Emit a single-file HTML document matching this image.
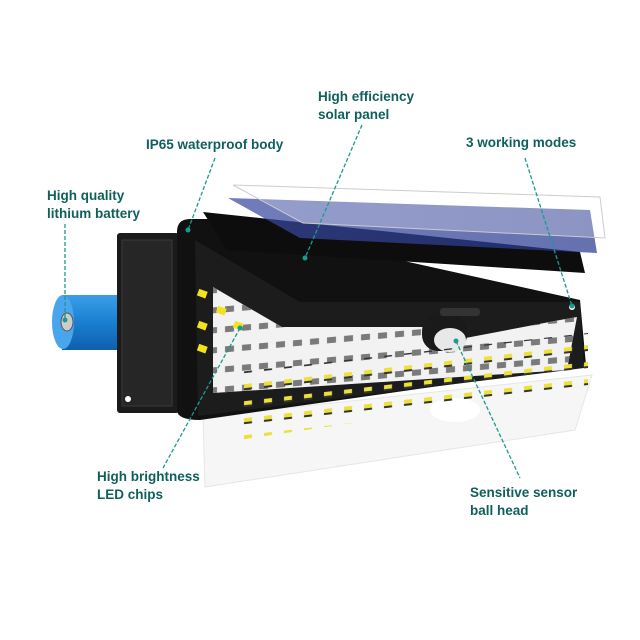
<!DOCTYPE html>
<html><head><meta charset="utf-8"><style>
html,body{margin:0;padding:0;background:#fff}
svg{display:block}
text{font-family:"Liberation Sans",sans-serif;font-weight:bold;font-size:13.5px;fill:#0f5f5b}
</style></head><body>
<svg width="640" height="640" viewBox="0 0 640 640" xmlns="http://www.w3.org/2000/svg">
<defs>
<pattern id="grid" width="17" height="20" patternUnits="userSpaceOnUse" patternTransform="skewY(-5)">
<rect x="4" y="6" width="9" height="6" fill="#7a7a7a"/>
</pattern>
<pattern id="led" width="20" height="17" patternUnits="userSpaceOnUse" patternTransform="skewY(-6.5)">
<rect x="4" y="4" width="8" height="5" fill="#ece03a"/>
<rect x="4" y="8" width="8" height="2" fill="#333"/>
</pattern>
<linearGradient id="bat" x1="0" y1="0" x2="0" y2="1">
<stop offset="0" stop-color="#3a9ee8"/><stop offset="0.5" stop-color="#1a7fd0"/><stop offset="1" stop-color="#0f5fae"/>
</linearGradient>
<linearGradient id="blue" x1="0" y1="0" x2="1" y2="0">
<stop offset="0" stop-color="#3a4aa0"/><stop offset="1" stop-color="#2a3a90"/>
</linearGradient>
</defs>
<!-- lens -->
<polygon points="203,417 592,375 575,430 205,487" fill="#f6f6f6" stroke="#e6e6e6"/>
<ellipse cx="455" cy="410" rx="25" ry="12" fill="#fff"/>
<!-- battery -->
<rect x="62" y="295" width="56" height="55" fill="url(#bat)"/>
<ellipse cx="63" cy="322" rx="11" ry="27" fill="#4aa6ec"/>
<ellipse cx="67" cy="322" rx="6" ry="9" fill="#ccc" stroke="#555"/>
<!-- back plate -->
<rect x="117" y="233" width="62" height="180" rx="3" fill="#1b1b1b"/>
<rect x="122" y="240" width="50" height="166" fill="#262626" stroke="#3a3a3a"/>
<circle cx="128" cy="399" r="3" fill="#fff"/>
<!-- body -->
<path d="M177,232 Q177,219 190,219 L215,219 L580,300 L586,365 L200,420 Q177,420 177,410 Z" fill="#111"/>
<polygon points="195,240 300,302 580,302 584,368 198,416" fill="#1c1c1c"/>
<!-- white LED panel -->
<polygon points="213,287 282,327 425,327 440,345 455,340 560,320 577,317 567,370 213,393" fill="#f2f2f2"/>
<polygon points="213,287 282,327 425,327 440,345 455,340 560,320 577,317 567,370 213,393" fill="url(#grid)"/>
<!-- sensor -->
<rect x="422" y="315" width="45" height="36" rx="16" fill="#1a1a1a"/>
<ellipse cx="450" cy="340" rx="16" ry="12" fill="#e8e8e8"/>
<rect x="440" y="308" width="40" height="8" rx="3" fill="#333"/>
<!-- LED chips -->
<polygon points="238,372 588,333 588,388 238,440" fill="url(#led)"/>
<rect x="198" y="290" width="9" height="7" fill="#f3e21e" transform="rotate(20 202 293)"/>
<rect x="198" y="322" width="9" height="7" fill="#f3e21e" transform="rotate(20 202 325)"/>
<rect x="198" y="345" width="9" height="7" fill="#f3e21e" transform="rotate(20 202 348)"/>
<rect x="217" y="307" width="9" height="7" fill="#f3e21e" transform="rotate(20 221 310)"/>
<rect x="234" y="322" width="9" height="7" fill="#f3e21e" transform="rotate(20 238 325)"/>
<!-- solar panel -->
<polygon points="203,212 580,252 585,273 227,250" fill="#0d0d0d"/>
<polygon points="228,198 590,210 597,253 300,238" fill="url(#blue)" opacity="0.72"/>
<polygon points="233,185 600,197 605,238 303,223" fill="#fff" fill-opacity="0.25" stroke="#ccc"/>
<circle cx="572" cy="307" r="3" fill="#fff"/>
<!-- labels -->
<text x="318" y="101">High efficiency</text>
<text x="318" y="119">solar panel</text>
<text x="146" y="149">IP65 waterproof body</text>
<text x="466" y="147">3 working modes</text>
<text x="47" y="200">High quality</text>
<text x="47" y="218">lithium battery</text>
<text x="97" y="481">High brightness</text>
<text x="97" y="499">LED chips</text>
<text x="470" y="497">Sensitive sensor</text>
<text x="470" y="515">ball head</text>
<g stroke="#1a9a90" stroke-width="1.3" stroke-dasharray="4,2" fill="none">
<line x1="215" y1="158" x2="188" y2="230"/>
<line x1="362" y1="125" x2="305" y2="258"/>
<line x1="525" y1="158" x2="572" y2="306"/>
<line x1="65" y1="224" x2="65" y2="320"/>
<line x1="240" y1="328" x2="163" y2="468"/>
<line x1="456" y1="341" x2="520" y2="478"/>
</g>
<g fill="#1a9a90">
<circle cx="188" cy="230" r="2.5"/><circle cx="305" cy="258" r="2.5"/><circle cx="572" cy="306" r="2.5"/>
<circle cx="65" cy="320" r="2.5"/><circle cx="240" cy="328" r="2.5"/><circle cx="456" cy="341" r="2.5"/>
</g>
</svg>
</body></html>
